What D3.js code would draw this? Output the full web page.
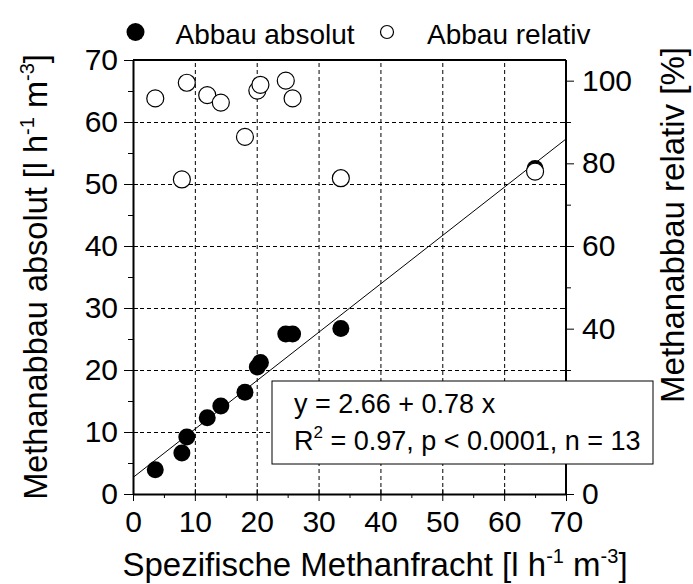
<!DOCTYPE html>
<html>
<head>
<meta charset="utf-8">
<script src="https://cdn.jsdelivr.net/npm/d3@7"></script>
<style>
  body { margin: 0; background: #fff; }
  svg { font-family: "Liberation Sans", Arial, sans-serif; }
</style>
</head>
<body>
<div id="chart"></div>
<script>
// values
const fracht        = [3.6, 7.9, 8.7, 12.0, 14.2, 18.1, 20.1, 20.6, 24.7, 25.8, 33.6, 65.0];
const abbauAbsolut  = [3.9, 6.6, 9.2, 12.3, 14.2, 16.4, 20.5, 21.2, 25.8, 25.8, 26.7, 52.5];
const abbauRelativ  = [95.7, 76.1, 99.5, 96.5, 94.7, 86.4, 97.6, 99.0, 100.0, 95.7, 76.4, 78.0];
const seriesNames   = ["Abbau absolut", "Abbau relativ"];
const fitIntercept = 2.66, fitSlope = 0.78;
const fitText = ["y = 2.66 + 0.78 x", ", p < 0.0001, n = 13"];
const xTicks = d3.range(0, 71, 10),
      yLeftTicks = d3.range(0, 71, 10),
      yRightTicks = d3.range(0, 101, 20);

const width = 693, height = 584;
const plot = {left: 133, right: 566, top: 60, bottom: 494};

const x = d3.scaleLinear().domain([0, 70]).range([plot.left, plot.right]);
const yL = d3.scaleLinear().domain([0, 70]).range([plot.bottom, plot.top]);
const yR = d3.scaleLinear().domain([0, 105]).range([plot.bottom, plot.top]);

const svg = d3.select("#chart").append("svg")
    .attr("width", width)
    .attr("height", height);

// dashed grid
svg.append("g")
    .attr("transform", `translate(0,${plot.bottom})`)
    .call(d3.axisBottom(x).tickValues(xTicks.filter(d => d > 0 && d < 70))
        .tickSize(-(plot.bottom - plot.top)).tickFormat(""))
    .call(g => g.select(".domain").remove())
    .selectAll("line").attr("stroke", "#000").attr("stroke-dasharray", "4,3");

svg.append("g")
    .attr("transform", `translate(${plot.left},0)`)
    .call(d3.axisLeft(yL).tickValues(yLeftTicks.filter(d => d > 0 && d < 70))
        .tickSize(-(plot.right - plot.left)).tickFormat(""))
    .call(g => g.select(".domain").remove())
    .selectAll("line").attr("stroke", "#000").attr("stroke-dasharray", "4,3");

// frame top
svg.append("line")
    .attr("x1", plot.left).attr("x2", plot.right)
    .attr("y1", plot.top).attr("y2", plot.top)
    .attr("stroke", "#000").attr("stroke-width", 2);

// inner ticks on right side mirroring left axis
svg.append("g")
    .attr("transform", `translate(${plot.right},0)`)
    .call(d3.axisLeft(yL).tickValues(yLeftTicks).tickSize(5).tickFormat(""))
    .call(g => g.select(".domain").remove())
    .selectAll("line").attr("x2", -5).attr("stroke-width", 1);

// regression line
svg.append("path")
    .datum([0, 70])
    .attr("fill", "none")
    .attr("stroke", "#000")
    .attr("stroke-width", 1)
    .attr("d", d3.line().x(d => x(d)).y(d => yL(fitIntercept + fitSlope * d)));

// points
svg.append("g").selectAll("circle")
    .data(fracht)
    .join("circle")
    .attr("cx", d => x(d))
    .attr("cy", (d, i) => yL(abbauAbsolut[i]))
    .attr("r", 8.5)
    .attr("fill", "#000");

svg.append("g").selectAll("circle")
    .data(fracht)
    .join("circle")
    .attr("cx", d => x(d))
    .attr("cy", (d, i) => yR(abbauRelativ[i]))
    .attr("r", 8.5)
    .attr("fill", "#fff")
    .attr("stroke", "#000")
    .attr("stroke-width", 1.2);

// left axis
const gL = svg.append("g")
    .attr("transform", `translate(${plot.left},0)`)
    .call(d3.axisLeft(yL).tickValues(yLeftTicks).tickSize(9).tickPadding(6).tickSizeOuter(0));
gL.selectAll(".tick line").attr("x1", 5);
svg.append("g")
    .attr("transform", `translate(${plot.left},0)`)
    .call(d3.axisLeft(yL).tickValues(d3.range(5, 70, 10)).tickSize(5).tickFormat(""))
    .call(g => g.select(".domain").remove());

// right axis
const gR = svg.append("g")
    .attr("transform", `translate(${plot.right},0)`)
    .call(d3.axisRight(yR).tickValues(yRightTicks).tickSize(8).tickPadding(8).tickSizeOuter(0));
gR.select(".domain").attr("d", `M0,${plot.bottom}V${plot.top}`);
svg.append("g")
    .attr("transform", `translate(${plot.right},0)`)
    .call(d3.axisRight(yR).tickValues(d3.range(10, 101, 20)).tickSize(5).tickFormat(""))
    .call(g => g.select(".domain").remove());

// bottom axis
const gB = svg.append("g")
    .attr("transform", `translate(0,${plot.bottom})`)
    .call(d3.axisBottom(x).tickValues(xTicks).tickSize(7).tickPadding(10).tickSizeOuter(0));
gB.selectAll(".tick line").attr("y1", -5);
svg.append("g")
    .attr("transform", `translate(0,${plot.bottom})`)
    .call(d3.axisBottom(x).tickValues(d3.range(5, 70, 10)).tickSize(4).tickFormat(""))
    .call(g => g.select(".domain").remove());

svg.selectAll(".domain").attr("stroke-width", 2);
svg.selectAll(".tick line").attr("stroke", "#000");
svg.selectAll(".tick text").attr("font-size", 30).attr("font-family", null).attr("fill", "#000");

// fit box (covers the right axis)
const box = svg.append("g");
box.append("rect")
    .attr("x", 272).attr("y", 381).attr("width", 381).attr("height", 83)
    .attr("fill", "#fff").attr("stroke", "#000").attr("stroke-width", 1);
box.append("text")
    .attr("x", 294).attr("y", 413).attr("font-size", 27)
    .text(fitText[0]);
const r2 = box.append("text")
    .attr("x", 294).attr("y", 450).attr("font-size", 27);
r2.append("tspan").text("R");
r2.append("tspan").attr("font-size", 17).attr("dy", -12).text("2");
r2.append("tspan").attr("dy", 12).text(" = 0.97" + fitText[1]);

// axis titles
function unitTitle(sel, label) {
  sel.append("tspan").text(label + " [l h");
  sel.append("tspan").attr("font-size", 20).attr("dy", -13).text("-1");
  sel.append("tspan").attr("dy", 13).text(" m");
  sel.append("tspan").attr("font-size", 20).attr("dy", -13).text("-3");
  sel.append("tspan").attr("dy", 13).text("]");
}

const xt = svg.append("text")
    .attr("x", 375).attr("y", 576)
    .attr("text-anchor", "middle").attr("font-size", 33);
unitTitle(xt, "Spezifische Methanfracht");

const yt = svg.append("text")
    .attr("transform", "translate(47,277) rotate(-90)")
    .attr("text-anchor", "middle").attr("font-size", 32.5);
unitTitle(yt, "Methanabbau absolut");

svg.append("text")
    .attr("transform", "translate(684,225) rotate(-90)")
    .attr("text-anchor", "middle").attr("font-size", 33)
    .text("Methanabbau relativ [%]");

// legend
svg.append("circle").attr("cx", 135.5).attr("cy", 32).attr("r", 9).attr("fill", "#000");
svg.append("text").attr("x", 175.5).attr("y", 43.5).attr("font-size", 28).text(seriesNames[0]);
svg.append("circle").attr("cx", 387).attr("cy", 32).attr("r", 6.5)
    .attr("fill", "#fff").attr("stroke", "#000").attr("stroke-width", 1.2);
svg.append("text").attr("x", 427).attr("y", 43.5).attr("font-size", 28).text(seriesNames[1]);
</script>
</body>
</html>
